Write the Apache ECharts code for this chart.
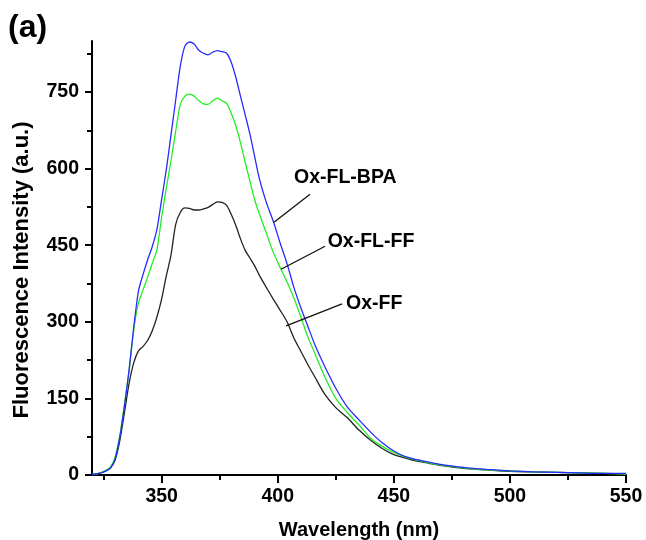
<!DOCTYPE html>
<html>
<head>
<meta charset="utf-8">
<script src="https://cdn.jsdelivr.net/npm/echarts@6.0.0/dist/echarts.min.js"></script>
<style>
  html, body { margin: 0; padding: 0; background: #fff; }
  #chart { width: 646px; height: 540px; }
</style>
</head>
<body>
<div id="chart"></div>
<script>
// Emission wavelengths (nm)
const wavelength = [320, 323, 326, 328, 330, 332, 334, 336, 338, 340, 342, 344, 346, 348, 350, 352, 354, 356, 358, 360,
  362, 364, 366, 368, 370, 372, 374, 376, 378, 380, 382, 384, 386, 388, 390, 392, 395, 398, 401, 404,
  407, 410, 413, 416, 420, 425, 430, 435, 440, 445, 450, 455, 460, 465, 470, 480, 490, 500, 510, 520,
  530, 540, 550];

// Fluorescence intensity (a.u.) for each sample
const oxFlBpa = [1, 3, 8, 14, 32, 75, 135, 207, 290, 360, 393, 422, 448, 482, 540, 598, 665, 733, 800, 840,
  848, 844, 832, 826, 823, 828, 831, 829, 826, 808, 778, 741, 705, 668, 625, 582, 535, 498, 455, 414,
  367, 327, 291, 255, 215, 170, 133, 108, 84, 63, 47, 36, 30, 25, 21, 15, 11, 8, 6, 5,
  4, 3, 3];
const oxFlFf = [1, 3, 9, 16, 36, 78, 140, 205, 285, 337, 363, 388, 415, 442, 505, 562, 615, 672, 725, 742,
  746, 742, 733, 727, 726, 733, 738, 733, 728, 708, 683, 650, 612, 576, 540, 512, 475, 437, 407, 378,
  346, 309, 270, 238, 195, 150, 122, 98, 72, 56, 44, 35, 29, 24, 20, 14, 10, 8, 6, 5,
  4, 3, 2];
const oxFf = [1, 3, 8, 14, 30, 68, 123, 180, 220, 243, 252, 264, 283, 310, 345, 390, 430, 490, 514, 523,
  522, 519, 519, 521, 524, 530, 535, 534, 528, 510, 488, 462, 440, 425, 410, 392, 368, 345, 323, 300,
  268, 242, 216, 192, 160, 132, 112, 88, 68, 52, 40, 33, 27, 23, 19, 13, 10, 7, 6, 5,
  4, 3, 2];

// Axis ticks
const xLabelTicks = [350, 400, 450, 500, 550];
const xMinorTicks = [325, 375, 425, 475, 525];
const yLabelTicks = [0, 150, 300, 450, 600, 750];
const yMinorTicks = [75, 225, 375, 525, 675, 825];

const FONT = '"Liberation Sans", Arial, Helvetica, sans-serif';

function pairs(ys) {
  return wavelength.map((w, i) => [w, ys[i]]);
}

function tagged(name, color, values, lineFrom, lineTo, textAt) {
  return {
    name: name,
    type: 'line',
    xAxisIndex: 0,
    yAxisIndex: 0,
    data: pairs(values),
    showSymbol: false,
    smooth: 0.25,
    lineStyle: { color: color, width: 1.3 },
    itemStyle: { color: color },
    z: 3,
    markLine: {
      silent: true,
      symbol: ['none', 'none'],
      animation: false,
      label: { show: false },
      lineStyle: { color: '#111', width: 1.3, type: 'solid' },
      data: [[{ coord: lineFrom }, { coord: lineTo }]]
    },
    markPoint: {
      silent: true,
      animation: false,
      symbol: 'circle',
      symbolSize: 0,
      data: [{ coord: textAt }],
      label: {
        show: true,
        position: 'right',
        distance: 0,
        formatter: name,
        color: '#000',
        fontFamily: FONT,
        fontWeight: 'bold',
        fontSize: 19.5
      }
    }
  };
}

const chart = echarts.init(document.getElementById('chart'), null, { renderer: 'canvas' });

chart.setOption({
  animation: false,
  backgroundColor: '#fff',
  graphic: [{
    type: 'text',
    left: 8,
    top: 12,
    style: { text: '(a)', fontFamily: FONT, fontWeight: 'bold', fontSize: 32, fill: '#000' }
  }, {
    // vertical axis title
    type: 'text',
    x: 22,
    y: 270,
    rotation: Math.PI / 2,
    style: {
      text: 'Fluorescence Intensity (a.u.)',
      fontFamily: FONT, fontWeight: 'bold', fontSize: 22, fill: '#000',
      align: 'center', verticalAlign: 'middle'
    }
  }],
  grid: { left: 92, right: 20, top: 41, bottom: 65, outerBoundsMode: 'none', containLabel: false },
  xAxis: [{
    type: 'value',
    min: 320,
    max: 550,
    position: 'bottom',
    name: 'Wavelength (nm)',
    nameLocation: 'middle',
    nameGap: 45,
    nameTextStyle: { fontFamily: FONT, fontWeight: 'bold', fontSize: 20, color: '#000' },
    axisLine: { show: true, lineStyle: { color: '#000', width: 2 } },
    axisTick: { show: true, customValues: xLabelTicks, length: 8, inside: false, lineStyle: { color: '#000', width: 2 } },
    axisLabel: { show: true, customValues: xLabelTicks, margin: 12, fontFamily: FONT, fontWeight: 'bold', fontSize: 19.5, color: '#000' },
    splitLine: { show: false }
  }, {
    type: 'value',
    min: 320,
    max: 550,
    position: 'bottom',
    axisLine: { show: false },
    axisTick: { show: true, customValues: xMinorTicks, length: 5, lineStyle: { color: '#000', width: 2 } },
    axisLabel: { show: false },
    splitLine: { show: false }
  }],
  yAxis: [{
    type: 'value',
    min: 0,
    max: 850,
    position: 'left',
    axisLine: { show: true, lineStyle: { color: '#000', width: 2 } },
    axisTick: { show: true, customValues: yLabelTicks, length: 7, lineStyle: { color: '#000', width: 2 } },
    axisLabel: { show: true, customValues: yLabelTicks, margin: 13, fontFamily: FONT, fontWeight: 'bold', fontSize: 19.5, color: '#000' },
    splitLine: { show: false }
  }, {
    type: 'value',
    min: 0,
    max: 850,
    position: 'left',
    axisLine: { show: false },
    axisTick: { show: true, customValues: yMinorTicks, length: 5, lineStyle: { color: '#000', width: 2 } },
    axisLabel: { show: false },
    splitLine: { show: false }
  }],
  series: [
    tagged('Ox-FF', '#222222', oxFf, [403.6, 292], [427.7, 335], [429.4, 335]),
    tagged('Ox-FL-FF', '#22ee22', oxFlFf, [401.4, 403], [420.4, 448], [421.5, 458]),
    tagged('Ox-FL-BPA', '#2a2aff', oxFlBpa, [398.4, 495], [413.9, 550], [407.0, 583])
  ]
});
</script>
</body>
</html>
